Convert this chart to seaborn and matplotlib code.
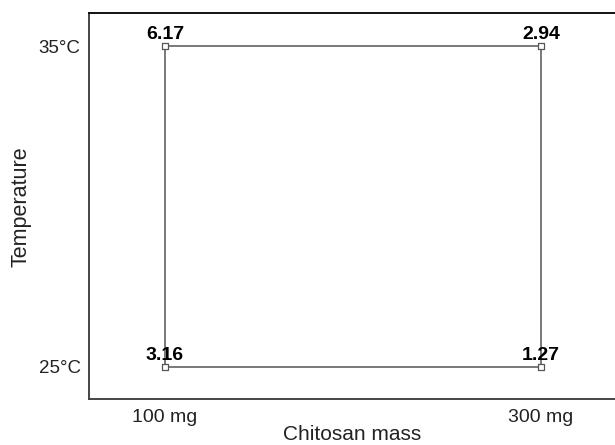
import matplotlib
matplotlib.use("Agg")
import matplotlib.pyplot as plt
import seaborn as sns
import pandas as pd

# Data
mass = [100, 300, 100, 300]
temperature = [35, 35, 25, 25]
response = [6.17, 2.94, 3.16, 1.27]
x_ticks = [100, 300]
x_ticklabels = ["100 mg", "300 mg"]
y_ticks = [25, 35]
y_ticklabels = ["25°C", "35°C"]

sns.set_theme(style="white")
plt.rcParams['font.family'] = ['Liberation Sans', 'DejaVu Sans']

fig = plt.figure(figsize=(6.15, 4.45), dpi=100)
ax = fig.add_axes([89/615, 1-399/445, 1-89/615, (399-13)/445])

# Build edge table for the square (design-space edges)
edges = []
pts = list(zip(mass, temperature))
edge_pairs = [(0, 1), (2, 3), (0, 2), (1, 3)]
for k, (i, j) in enumerate(edge_pairs):
    for p in (i, j):
        edges.append({"edge": k, "mass": pts[p][0], "temp": pts[p][1]})
edf = pd.DataFrame(edges)

sns.lineplot(data=edf, x="mass", y="temp", units="edge", estimator=None,
             color="#555555", linewidth=1.1, sort=False, ax=ax)

df = pd.DataFrame({"mass": mass, "temp": temperature, "resp": response})
sns.scatterplot(data=df, x="mass", y="temp", marker="s", s=24,
                facecolor="white", edgecolor="#555555", linewidth=0.9,
                zorder=5, ax=ax)

for xv, yv, r in zip(mass, temperature, response):
    ax.annotate(f"{r:.2f}", (xv, yv), xytext=(0, 2), textcoords="offset points",
                ha="center", va="bottom", fontsize=14, fontweight="bold",
                color="black", zorder=6)

ax.set_xlim(59.6, 339.4)
ax.set_ylim(24.0, 36.03)
ax.set_xticks(x_ticks)
ax.set_xticklabels(x_ticklabels, fontsize=14)
ax.set_yticks(y_ticks)
ax.set_yticklabels(y_ticklabels, fontsize=13.5)
ax.tick_params(length=0, pad=6, colors="#222222")
ax.tick_params(axis="x", pad=7)
ax.set_xlabel("Chitosan mass", fontsize=15, color="#222222")
ax.set_ylabel("Temperature", fontsize=15.5, color="#222222")
# bottom of label kept just inside the figure
ax.xaxis.set_label_coords((352-89)/(615-89), -(444-399)/(399-13))
ax.xaxis.label.set_va("bottom")
ax.yaxis.set_label_coords(-(89-21)/(615-89), (399-207)/(399-13))
ax.yaxis.label.set_va("center")

ax.spines["right"].set_visible(False)
ax.spines["top"].set_color("#111111")
ax.spines["top"].set_linewidth(1.4)
for side in ["left", "bottom"]:
    ax.spines[side].set_color("#444444")
    ax.spines[side].set_linewidth(1.4)

fig.savefig("out.png", dpi=100)
